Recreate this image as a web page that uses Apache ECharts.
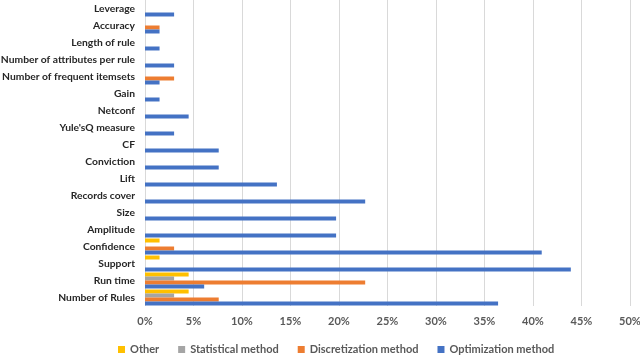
<!DOCTYPE html>
<html>
<head>
<meta charset="utf-8">
<script src="https://cdn.jsdelivr.net/npm/echarts@6/dist/echarts.min.js"></script>
<style>
  html, body { margin: 0; padding: 0; background: #fff; }
  #main { width: 640px; height: 356px; }
</style>
</head>
<body>
<div id="main"></div>
<script>
// categories listed bottom -> top
var categories = ['Number of Rules', 'Run time', 'Support', 'Confidence', 'Amplitude', 'Size',
  'Records cover', 'Lift', 'Conviction', 'CF', "Yule'sQ measure", 'Netconf', 'Gain',
  'Number of frequent itemsets', 'Number of attributes per rule', 'Length of rule', 'Accuracy', 'Leverage']

// percent of papers
var other = [4.5, 4.5, 1.5, 1.5, 0, 0, 0, 0, 0, 0, 0, 0, 0, 0, 0, 0, 0, 0]
var statistical = [3.0, 3.0, 0, 0, 0, 0, 0, 0, 0, 0, 0, 0, 0, 0, 0, 0, 0, 0]
var discretization = [7.6, 22.7, 0, 3.0, 0, 0, 0, 0, 0, 0, 0, 0, 0, 3.0, 0, 0, 1.5, 0]
var optimization = [36.4, 6.1, 43.9, 40.9, 19.7, 19.7, 22.7, 13.6, 7.6, 7.6, 3.0, 4.5, 1.5, 1.5, 3.0, 1.5, 1.5, 3.0]

var font = 'Lato'

var myChart = echarts.init(document.getElementById('main'))

function bar(name, data) {
  return {
    name: name,
    type: 'bar',
    data: data,
    barGap: '0%',
    barCategoryGap: '6%'
  }
}

myChart.setOption({
  animation: false,
  color: ['#FFC000', '#A5A5A5', '#ED7D31', '#4472C4'],
  grid: {
    left: 145,
    right: 10,
    top: 0,
    bottom: 50,
    outerBoundsMode: 'none'
  },
  legend: {
    top: 339,
    left: 113,
    itemWidth: 7,
    itemHeight: 7,
    itemGap: 19,
    icon: 'rect',
    textStyle: {
      fontFamily: font,
      fontWeight: 'bold',
      fontSize: 11,
      color: '#595959'
    },
    data: ['Other', 'Statistical method', 'Discretization method', 'Optimization method']
  },
  xAxis: {
    type: 'value',
    min: 0,
    max: 50,
    interval: 5,
    axisLine: { show: false },
    axisTick: { show: false },
    splitLine: {
      lineStyle: { color: '#D9D9D9' }
    },
    axisLabel: {
      formatter: '{value}%',
      margin: 10,
      fontFamily: font,
      fontWeight: 'bold',
      fontSize: 11,
      color: '#595959'
    }
  },
  yAxis: {
    type: 'category',
    data: categories,
    axisLine: { show: false },
    axisTick: { show: false },
    axisLabel: {
      margin: 10,
      fontFamily: font,
      fontWeight: 'bold',
      fontSize: 10.3,
      color: '#262626'
    }
  },
  series: [
    bar('Other', other),
    bar('Statistical method', statistical),
    bar('Discretization method', discretization),
    bar('Optimization method', optimization)
  ]
})
</script>
</body>
</html>
